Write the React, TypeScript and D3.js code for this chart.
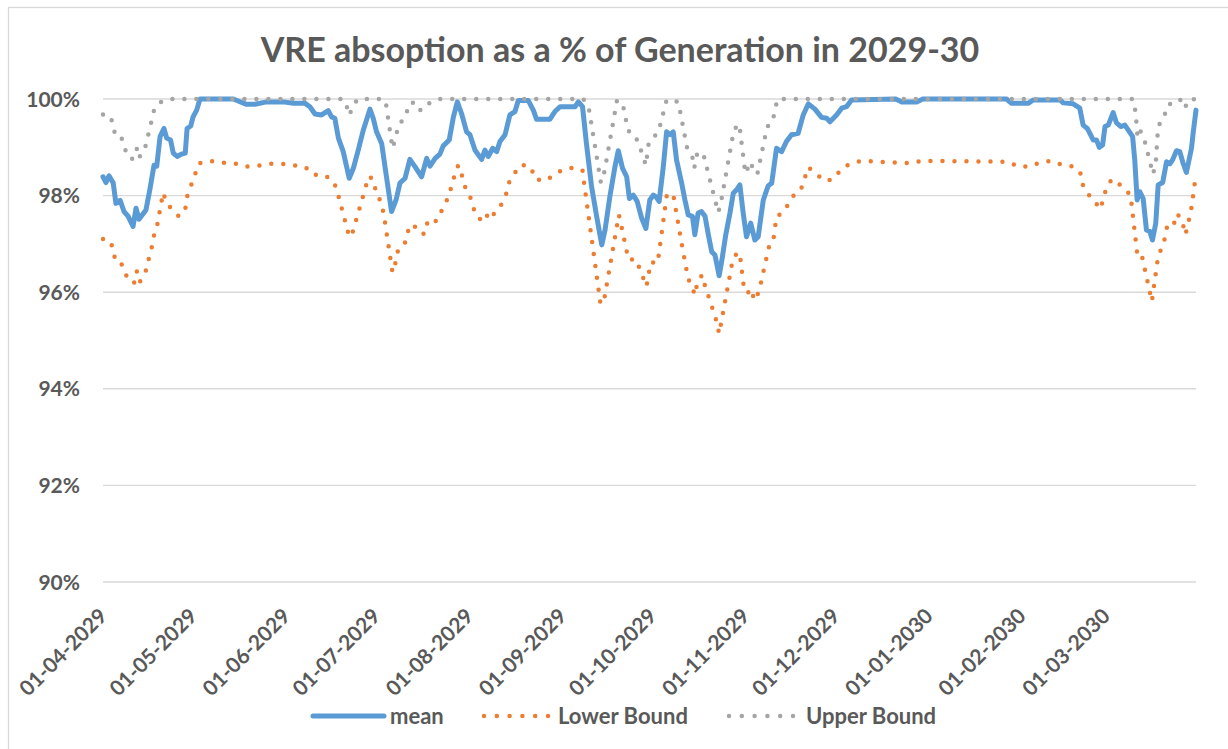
import React from 'react';
import * as d3 from 'd3';

// ---------- DATA ----------
const title = 'VRE absoption as a % of Generation in 2029-30';
const startDate = Date.UTC(2029, 3, 1);
const endDate = Date.UTC(2030, 2, 31);
const yTicks = [90, 92, 94, 96, 98, 100];
const seriesNames = ['mean', 'Lower Bound', 'Upper Bound'];

// days since 01-04-2029
const meanDay = [0, 1, 2, 3.4, 4.3, 5.7, 7, 8.4, 10, 11, 12, 14.3, 15.6, 17, 17.9, 19, 20.3, 21.2, 22.5, 23.4, 24.7, 26.2, 27.4, 28, 29.2, 30, 31.2, 32.3, 43.4, 47.8, 50.6, 54.5, 60, 63.4, 67.3, 68.9, 70.6, 72.8, 75, 76.1, 77.2, 78.4, 80, 82, 83.4, 85, 86.7, 88.9, 90, 91.1, 92.8, 94.4, 96.1, 97.6, 98.9, 100.6, 102.2, 103.9, 106.1, 107.8, 108.9, 110.6, 112.2, 113.3, 115.3, 116.7, 118, 119.4, 121.1, 122.2, 123.9, 126.1, 127.2, 128.3, 129.8, 131.1, 132.2, 133.9, 135.5, 137.2, 138.3, 141.6, 143.3, 144.4, 148.8, 150.5, 152.2, 157.2, 158.3, 159.7, 161, 162.7, 164.4, 166.1, 167.2, 168.8, 170.5, 171.6, 173, 174.4, 175.3, 176.6, 177.9, 179.4, 180.8, 182.1, 183.3, 184.1, 185.2, 186.6, 187.7, 188.8, 189.9, 191, 192.7, 193.8, 194.9, 196.3, 197.1, 198.2, 199.3, 200.5, 201.6, 202.7, 203.8, 205.2, 206.3, 207.4, 208.8, 209.9, 211, 212.1, 213.2, 214.3, 215.7, 217.1, 218.2, 219.9, 221.5, 222.7, 224.3, 226, 227.6, 229.3, 231.5, 233.2, 234.9, 237.1, 239.3, 241, 242.1, 244.3, 246, 247.6, 249.3, 264, 266, 271, 273, 300.9, 302.6, 308.1, 309.8, 318.7, 319.8, 323.1, 325.3, 326.4, 327.8, 329.8, 330.9, 331.8, 332.9, 333.7, 334.8, 336.4, 337.5, 338.9, 340.3, 341.4, 342.9, 343.6, 344.4, 345.3, 346.4, 347.5, 348.6, 349.5, 350.6, 351.4, 352.9, 354.2, 355.3, 356.2, 357.5, 358.6, 359.7, 360.8, 362.5, 363.1, 364];
const meanPct = [98.39, 98.27, 98.41, 98.26, 97.84, 97.9, 97.67, 97.57, 97.36, 97.74, 97.51, 97.7, 98.12, 98.63, 98.61, 99.22, 99.39, 99.19, 99.15, 98.88, 98.81, 98.86, 98.88, 99.39, 99.44, 99.63, 99.77, 100, 100, 99.89, 99.89, 99.94, 99.94, 99.91, 99.91, 99.84, 99.69, 99.67, 99.76, 99.63, 99.6, 99.19, 98.91, 98.36, 98.57, 98.94, 99.36, 99.79, 99.6, 99.32, 99.08, 98.39, 97.67, 97.91, 98.26, 98.36, 98.75, 98.6, 98.39, 98.77, 98.61, 98.77, 98.86, 99.03, 99.15, 99.63, 99.94, 99.7, 99.32, 99.26, 98.94, 98.75, 98.94, 98.81, 98.98, 98.91, 99.12, 99.26, 99.67, 99.74, 99.97, 99.97, 99.77, 99.58, 99.58, 99.74, 99.84, 99.84, 99.94, 99.84, 99.08, 98.19, 97.57, 96.98, 97.29, 97.98, 98.6, 98.93, 98.57, 98.39, 97.94, 98.01, 97.88, 97.53, 97.32, 97.91, 98.01, 97.98, 97.88, 98.6, 99.32, 99.26, 99.32, 98.74, 98.26, 97.91, 97.6, 97.57, 97.19, 97.64, 97.67, 97.57, 97.19, 96.84, 96.77, 96.34, 96.74, 97.19, 97.64, 98.05, 98.12, 98.22, 97.64, 97.15, 97.43, 97.08, 97.15, 97.91, 98.2, 98.26, 98.98, 98.91, 99.12, 99.26, 99.29, 99.67, 99.9, 99.79, 99.62, 99.6, 99.53, 99.67, 99.81, 99.84, 99.98, 100, 99.94, 99.94, 100, 100, 99.91, 99.91, 99.98, 99.98, 99.92, 99.9, 99.81, 99.46, 99.39, 99.15, 99.15, 99.0, 99.05, 99.43, 99.46, 99.72, 99.51, 99.43, 99.46, 99.36, 99.22, 98.74, 97.91, 98.08, 97.94, 97.29, 97.26, 97.08, 97.43, 98.22, 98.27, 98.7, 98.66, 98.74, 98.93, 98.91, 98.67, 98.48, 98.98, 99.32, 99.77];

const lowerDay = [0, 2, 3.5, 4, 6, 7.3, 9.3, 10.6, 11.3, 12.3, 14.2, 15.2, 16.2, 17, 17.9, 20, 21, 23, 25.3, 27.4, 28, 32, 35.6, 39.5, 43.7, 47.5, 51.5, 55.6, 59.5, 63.5, 67.4, 70, 73.6, 75.9, 77.6, 82, 82.8, 88.5, 90, 90.9, 92.6, 93.5, 96.4, 97.6, 98.3, 100.9, 101.7, 103.3, 105.3, 107.2, 108, 109.4, 112, 113.3, 115.3, 116.1, 118.3, 119.7, 120.8, 122.3, 123.5, 125.5, 127, 129.1, 130.5, 132.5, 134.2, 135.2, 137, 139.2, 142.5, 143.9, 147.5, 150.3, 153.6, 157.4, 159.7, 160.2, 165.7, 166.9, 171.8, 172.5, 175, 177.5, 181, 182.4, 184.7, 187.8, 189.9, 192.7, 194.9, 196.3, 197, 198, 199.5, 200.5, 204, 205.2, 209.6, 211.2, 212.1, 213.6, 214.9, 216, 216.8, 218.4, 221.9, 223.2, 224.3, 225.8, 227.6, 229.6, 232.3, 234.9, 237.6, 240.6, 243.2, 245.8, 248.7, 252.6, 264.8, 268.9, 272.9, 301.5, 304.8, 308.7, 312, 316, 319.6, 323.3, 325.9, 326.4, 328.4, 330.4, 332.3, 333.1, 334.2, 335.9, 337.2, 339.5, 342.2, 344.6, 346.1, 349.3, 351.4, 352.7, 353.9, 354.5, 356.6, 357.8, 359.5, 360.5, 361.4, 362.3, 364];
const lowerPct = [97.1, 97.08, 96.9, 96.66, 96.61, 96.39, 96.19, 96.2, 96.44, 96.22, 96.43, 96.68, 96.92, 97.18, 97.33, 98.06, 97.88, 97.7, 97.57, 97.72, 97.98, 98.67, 98.72, 98.68, 98.67, 98.6, 98.62, 98.66, 98.66, 98.63, 98.59, 98.43, 98.43, 98.34, 98.18, 97.15, 97.17, 98.4, 98.34, 98.08, 97.86, 97.62, 96.41, 96.65, 96.89, 97.05, 97.29, 97.41, 97.22, 97.21, 97.44, 97.38, 97.55, 97.79, 97.98, 98.23, 98.63, 98.39, 98.14, 97.97, 97.72, 97.51, 97.65, 97.5, 97.66, 97.8, 98.02, 98.27, 98.46, 98.64, 98.59, 98.34, 98.31, 98.44, 98.55, 98.58, 98.52, 98.27, 95.75, 95.85, 97.6, 97.41, 96.67, 96.68, 96.12, 96.62, 96.6, 98.03, 98.02, 97.01, 96.27, 96.12, 95.94, 96.2, 96.36, 96.13, 95.47, 95.14, 96.63, 96.83, 96.78, 96.01, 96.0, 96.07, 95.83, 96.0, 96.97, 97.06, 97.57, 97.62, 97.76, 97.98, 98.1, 98.59, 98.44, 98.3, 98.34, 98.54, 98.66, 98.72, 98.68, 98.67, 98.72, 98.7, 98.6, 98.6, 98.69, 98.72, 98.63, 98.6, 98.43, 98.19, 98.01, 97.86, 97.72, 97.96, 98.15, 98.34, 98.3, 98.18, 98.01, 96.7, 96.72, 95.81, 96.75, 96.93, 97.17, 97.42, 97.41, 97.63, 97.44, 97.19, 97.43, 97.67, 98.45];

const upperDay = [0, 2, 3.5, 4, 6.2, 7.3, 9.3, 10.7, 11.4, 12.3, 14.2, 17, 18.4, 21.5, 80, 81.1, 82, 83.6, 85, 93.5, 94.2, 96.4, 97.6, 98.3, 100.9, 101.7, 103.9, 105.8, 107.6, 108.9, 111.7, 160, 161.9, 165.8, 167, 171.2, 173.3, 174.9, 176.6, 178.3, 180.8, 181.8, 183.8, 184.9, 187.7, 191.6, 194.6, 196.3, 196.9, 198, 200.1, 204.9, 205.8, 210.1, 211.9, 213.9, 215.7, 216.5, 217.9, 221.2, 222.9, 224.6, 343, 343.9, 344.5, 345.3, 346.6, 349.7, 350.6, 351.4, 353.4, 354.2, 355.5, 358.6, 360.3, 361.4, 364];
const upperPct = [99.68, 99.67, 99.48, 99.23, 99.19, 98.96, 98.75, 98.79, 99.01, 98.81, 99.03, 99.77, 99.91, 100, 100, 99.86, 99.66, 99.9, 100, 100, 99.92, 98.98, 99.22, 99.46, 99.63, 99.89, 99.94, 99.76, 99.84, 99.93, 100, 100, 99.77, 98.27, 98.5, 99.98, 99.83, 99.34, 99.3, 99.1, 98.63, 99.12, 99.24, 99.3, 99.98, 99.94, 98.96, 98.79, 98.57, 98.91, 98.82, 97.65, 97.86, 99.36, 99.48, 98.46, 98.7, 98.53, 98.44, 99.43, 99.51, 100, 100, 99.72, 99.22, 99.36, 99.21, 98.44, 98.68, 99.44, 99.61, 99.86, 99.9, 100, 99.81, 99.98, 100];

// ---------- STYLE ----------
const W = 1228;
const H = 749;
const FONT = 'Lato, "Open Sans", sans-serif';
const TEXT = '#595959';
const GRID = '#d9d9d9';
const COLORS = ['#5b9bd5', '#ed7d31', '#a5a5a5'];

const DAY = 86400000;

export default function App() {
  const x = d3.scaleUtc().domain([startDate, endDate]).range([103, 1196]);
  const y = d3.scaleLinear().domain([90, 100]).range([582, 99]);

  const toPts = (days: number[], vals: number[]) =>
    days.map((d, i) => [new Date(startDate + d * DAY), vals[i]] as [Date, number]);

  const line = d3
    .line<[Date, number]>()
    .x((d) => x(d[0]))
    .y((d) => y(d[1]));

  const series = [
    { name: seriesNames[0], pts: toPts(meanDay, meanPct), color: COLORS[0], dotted: false },
    { name: seriesNames[1], pts: toPts(lowerDay, lowerPct), color: COLORS[1], dotted: true },
    { name: seriesNames[2], pts: toPts(upperDay, upperPct), color: COLORS[2], dotted: true },
  ];

  const monthTicks = d3.utcMonth.range(new Date(startDate), new Date(endDate));
  const fmt = d3.utcFormat('%d-%m-%Y');
  const [x0, x1] = x.range();

  const legend = [
    { name: seriesNames[0], color: COLORS[0], dotted: false, lx0: 313, lx1: 384, tx: 390 },
    { name: seriesNames[1], color: COLORS[1], dotted: true, lx0: 484, lx1: 548, tx: 558 },
    { name: seriesNames[2], color: COLORS[2], dotted: true, lx0: 729, lx1: 793, tx: 806 },
  ];

  return (
    <svg
      width={W}
      height={H}
      style={{ position: 'absolute', left: 0, top: 0, background: '#fff' }}
      fontFamily={FONT}
    >
      <rect x={8.5} y={7.5} width={1240} height={760} fill="#fff" stroke={GRID} strokeWidth={1.3} />
      <text x={620} y={62} textAnchor="middle" fontSize={34} fontWeight="bold" fill={TEXT}>
        {title}
      </text>

      {yTicks.map((t) => (
        <g key={t}>
          <line x1={x0} x2={x1} y1={y(t)} y2={y(t)} stroke={GRID} strokeWidth={1.4} />
          <text x={80} y={y(t)} dy="0.36em" textAnchor="end" fontSize={21} fontWeight="bold" fill={TEXT}>
            {d3.format('.0%')(t / 100)}
          </text>
        </g>
      ))}

      {monthTicks.map((m) => {
        const tx = x(m);
        return (
          <text
            key={+m}
            transform={`translate(${tx},${612}) rotate(-45)`}
            dy="0.36em"
            textAnchor="end"
            fontSize={21}
            fontWeight="bold"
            fill={TEXT}
          >
            {fmt(m)}
          </text>
        );
      })}

      {series.map((s) => (
        <path
          key={s.name}
          d={line(s.pts) || ''}
          fill="none"
          stroke={s.color}
          strokeWidth={s.dotted ? 4.5 : 5}
          strokeLinejoin="round"
          strokeLinecap="round"
          strokeDasharray={s.dotted ? '0 12' : undefined}
        />
      ))}

      {legend.map((l) => (
        <g key={l.name}>
          <line
            x1={l.lx0}
            x2={l.lx1}
            y1={716}
            y2={716}
            stroke={l.color}
            strokeWidth={l.dotted ? 4.5 : 5}
            strokeLinecap="round"
            strokeDasharray={l.dotted ? '0 12.8' : undefined}
          />
          <text x={l.tx} y={716} dy="0.36em" fontSize={22} fontWeight="bold" fill={TEXT}>
            {l.name}
          </text>
        </g>
      ))}
    </svg>
  );
}
